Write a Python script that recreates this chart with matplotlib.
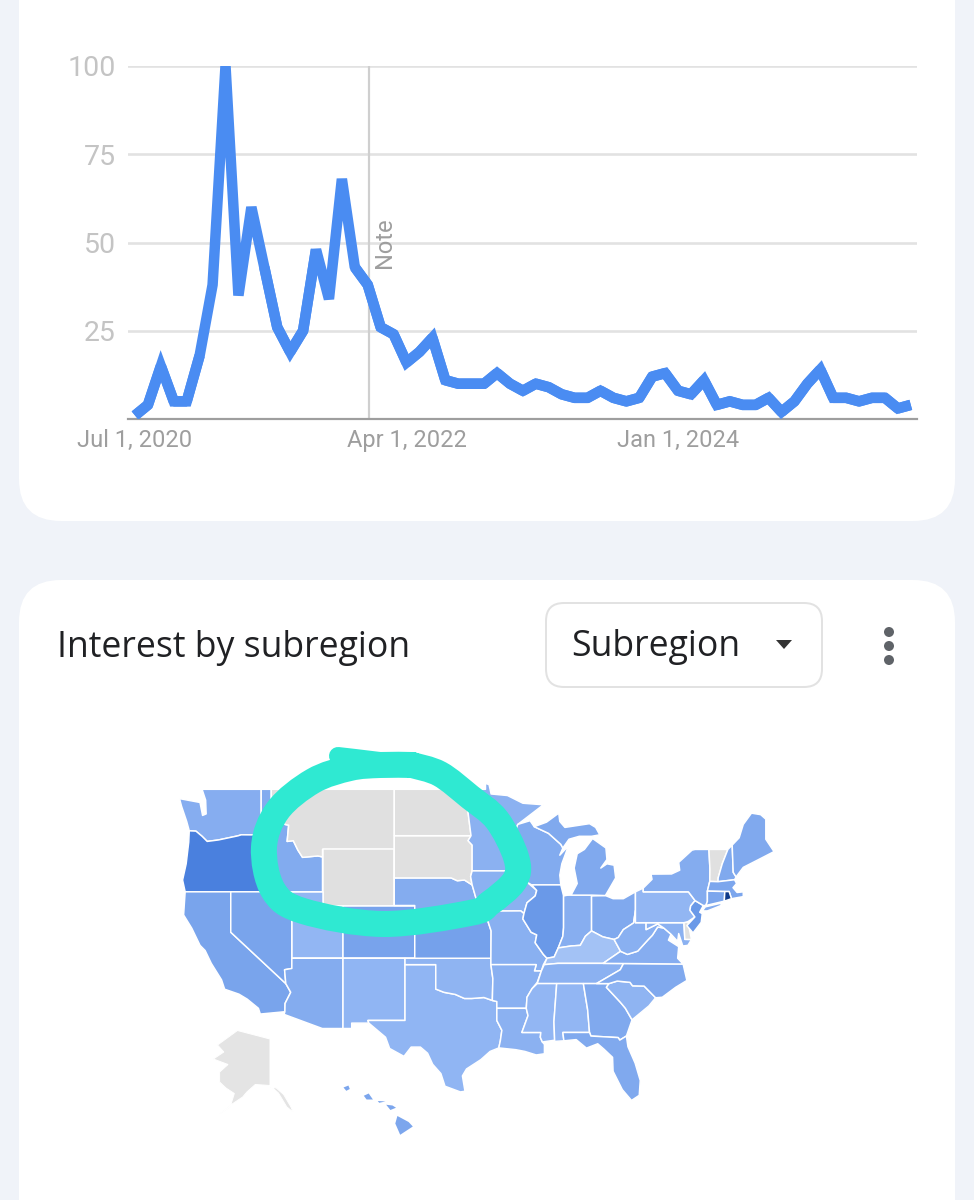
import numpy as np
import matplotlib
matplotlib.use("Agg")
import matplotlib.pyplot as plt
from matplotlib.patches import FancyBboxPatch, Polygon, PathPatch, Circle
from matplotlib.path import Path
from matplotlib.colors import LinearSegmentedColormap, Normalize

# ---------------- line chart data ----------------
MONTH_INDEX = list(range(61))
INTEREST = [1, 4, 15, 5, 5, 18, 38, 100, 35, 60, 43, 26, 19, 25, 48, 34, 68, 43, 38, 26,
            24, 16, 19, 23, 11, 10, 10, 10, 13, 10, 8, 10, 9, 7, 6, 6, 8, 6, 5, 6,
            12, 13, 8, 7, 11, 4, 5, 4, 4, 6, 2, 5, 10, 14, 6, 6, 5, 6, 6, 3, 4]
Y_TICKS = [25, 50, 75, 100]
X_TICK_POS = [0, 21, 42]
X_TICK_LABELS = ["Jul 1, 2020", "Apr 1, 2022", "Jan 1, 2024"]
NOTE_MONTH = 18
SHARP_JOIN_RANGES = [(0, 6), (10, 15), (17, 61)]

# ---------------- map data: interest per state (None = not enough data) ----------------
STATE_VALUES = {
    "OR": 60, "WA": 37, "ID": 39, "CA": 43, "NV": 43, "UT": 30, "AZ": 38, "NM": 31, "CO": 44,
    "KS": 45, "NE": 38, "TX": 31, "OK": 32, "MN": 34, "IA": 34, "MO": 35, "AR": 35, "LA": 34,
    "WI": 39, "IL": 50, "MI": 40, "MI2": 40, "IN": 36, "OH": 40, "KY": 20, "TN": 34, "MS": 30,
    "AL": 30, "GA": 40, "FL": 40, "SC": 32, "NC": 40, "VA": 37, "WV": 35, "PA": 30, "NY": 38,
    "LI": 38, "NJ": 50, "MD": 34, "NH": 40, "ME": 40, "MA": 42, "CT": 42, "RI": 100,
    "MT": None, "ND": None, "SD": None, "WY": None, "VT": None, "DE": None,
}
STATES = {
    "WA": [(-125,48.4),(-123.0,48.15),(-122.75,47.3),(-122.4,47.4),(-122.45,48.3),(-122.8,49),(-117.03,49),(-117.03,46.42),(-116.92,45.99),(-118.98,46.0),(-119.3,45.93),(-121.2,45.65),(-122.3,45.55),(-122.8,45.9),(-123.4,46.25),(-124.05,46.27),(-124.3,46.9),(-124.8,47.9)],
    "OR": [(-124.05,46.27),(-123.4,46.25),(-122.8,45.9),(-122.3,45.55),(-121.2,45.65),(-119.3,45.93),(-118.98,46.0),(-116.92,45.99),(-116.5,45.5),(-117.03,44.3),(-117.03,42),(-124.45,42),(-124.7,42.85),(-124.35,44),(-124.1,45.5)],
    "CA": [(-124.45,42),(-120,42),(-120,39),(-114.63,35),(-114.15,34.3),(-114.7,33.4),(-114.72,32.72),(-117.12,32.53),(-117.3,33),(-118.4,33.75),(-119.2,34.15),(-120.6,34.55),(-120.9,35.3),(-121.9,36.6),(-122.5,37.6),(-123,38),(-123.8,39.3),(-124.6,40.3)],
    "NV": [(-120,42),(-114.04,42),(-114.04,36.2),(-114.75,36.1),(-114.63,35),(-120,39)],
    "ID": [(-117.03,49),(-116.05,49),(-116.05,48),(-115.7,47.45),(-114.7,46.7),(-114.35,46.65),(-114.5,45.55),(-113.9,45.6),(-113.45,44.95),(-113,44.45),(-111.5,44.55),(-111.05,44.48),(-111.05,42),(-117.03,42),(-117.03,44.3),(-116.5,45.5),(-116.92,45.99),(-117.03,46.42)],
    "MT": [(-116.05,49),(-104.05,49),(-104.05,45),(-111.05,45),(-111.05,44.48),(-111.5,44.55),(-113,44.45),(-113.45,44.95),(-113.9,45.6),(-114.5,45.55),(-114.35,46.65),(-114.7,46.7),(-115.7,47.45),(-116.05,48)],
    "WY": [(-111.05,45),(-104.05,45),(-104.05,41),(-111.05,41)],
    "UT": [(-114.04,42),(-111.05,42),(-111.05,41),(-109.05,41),(-109.05,37),(-114.04,37)],
    "CO": [(-109.05,41),(-102.05,41),(-102.05,37),(-109.05,37)],
    "AZ": [(-114.04,37),(-109.05,37),(-109.05,31.33),(-111.07,31.33),(-114.8,32.5),(-114.72,32.72),(-114.7,33.4),(-114.15,34.3),(-114.63,35),(-114.75,36.1),(-114.04,36.2)],
    "NM": [(-109.05,37),(-103,37),(-103,32),(-106.62,32),(-106.53,31.78),(-108.2,31.78),(-108.2,31.33),(-109.05,31.33)],
    "TX": [(-103,36.5),(-100,36.5),(-100,34.56),(-99.2,34.3),(-98.1,34.13),(-97.2,33.8),(-96.5,33.8),(-95.3,33.88),(-94.48,33.64),(-94.04,33.55),(-94.04,33),(-94.04,31.99),(-93.55,31.18),(-93.7,30.3),(-93.85,29.7),(-94.7,29.4),(-95.6,28.7),(-97,27.9),(-97.4,27.3),(-97.15,25.96),(-97.6,25.9),(-99.1,26.4),(-99.5,27.5),(-100.3,28.3),(-100.8,29.25),(-101.5,29.77),(-102.4,29.77),(-103.1,28.98),(-104.5,29.65),(-104.9,30.6),(-106.53,31.78),(-106.62,32),(-103,32)],
    "OK": [(-103,37),(-94.62,37),(-94.62,36.5),(-94.43,35.4),(-94.48,33.64),(-95.3,33.88),(-96.5,33.8),(-97.2,33.8),(-98.1,34.13),(-99.2,34.3),(-100,34.56),(-100,36.5),(-103,36.5)],
    "KS": [(-102.05,40),(-95.3,40),(-94.9,39.8),(-94.6,39.1),(-94.62,37),(-102.05,37)],
    "NE": [(-104.05,43),(-98.5,43),(-97.9,42.8),(-97.2,42.85),(-96.45,42.5),(-96.1,41.6),(-95.9,41),(-95.3,40),(-102.05,40),(-102.05,41),(-104.05,41)],
    "SD": [(-104.05,45.94),(-96.56,45.94),(-96.85,45.6),(-96.45,45.3),(-96.45,43.5),(-96.6,43.1),(-96.45,42.5),(-97.2,42.85),(-97.9,42.8),(-98.5,43),(-104.05,43)],
    "ND": [(-104.05,49),(-97.23,49),(-96.85,47.5),(-96.56,45.94),(-104.05,45.94)],
    "MN": [(-97.23,49),(-95.15,49),(-95.15,49.38),(-94.8,49.3),(-94.6,48.7),(-93,48.6),(-91.5,48.1),(-89.5,48),(-92.0,46.7),(-92.3,46.1),(-92.85,45.6),(-92.75,44.75),(-91.25,43.85),(-91.22,43.5),(-96.45,43.5),(-96.45,45.3),(-96.85,45.6),(-96.56,45.94),(-96.85,47.5)],
    "IA": [(-96.45,43.5),(-91.22,43.5),(-91.1,42.7),(-90.15,42.1),(-90.3,41.7),(-91.1,41.2),(-91.4,40.4),(-91.7,40.6),(-95.77,40.58),(-95.9,41),(-96.1,41.6),(-96.45,42.5),(-96.6,43.1)],
    "MO": [(-95.77,40.58),(-91.7,40.6),(-91.4,40.4),(-91.5,40),(-90.7,39.0),(-90.15,38.8),(-90.3,38.2),(-89.5,37.3),(-89.15,37),(-89.5,36.5),(-89.7,36),(-90.37,36),(-90.2,36.5),(-94.62,36.5),(-94.62,37),(-94.6,39.1),(-94.9,39.8),(-95.3,40)],
    "AR": [(-94.62,36.5),(-90.2,36.5),(-90.37,36),(-89.7,36),(-90.1,35.1),(-90.6,34.6),(-91.1,33.9),(-91.17,33),(-94.04,33),(-94.04,33.55),(-94.48,33.64),(-94.43,35.4)],
    "LA": [(-94.04,33),(-91.17,33),(-91,32.4),(-91.6,31),(-89.75,31),(-89.8,30.6),(-89.6,30.2),(-89.4,30),(-89.4,29.2),(-90.2,29.1),(-91.3,29.4),(-92.2,29.55),(-93.85,29.7),(-93.7,30.3),(-93.55,31.18),(-94.04,31.99)],
    "WI": [(-92.0,46.7),(-90.8,46.95),(-90.4,46.55),(-89,46.1),(-87.8,45.35),(-87.6,45.1),(-87.9,44.6),(-87.05,45.25),(-87.7,44),(-87.9,43.2),(-87.8,42.5),(-90.65,42.5),(-91.1,42.7),(-91.22,43.5),(-91.25,43.85),(-92.75,44.75),(-92.85,45.6),(-92.3,46.1)],
    "IL": [(-90.65,42.5),(-87.8,42.5),(-87.53,41.7),(-87.53,39.35),(-87.6,38.7),(-88.05,37.8),(-88.45,37.1),(-89.15,37),(-89.5,37.3),(-90.3,38.2),(-90.15,38.8),(-90.7,39),(-91.5,40),(-91.4,40.4),(-91.1,41.2),(-90.3,41.7),(-90.15,42.1)],
    "IN": [(-87.53,41.7),(-87.2,41.75),(-86.8,41.76),(-84.8,41.76),(-84.8,39.1),(-85.4,38.7),(-85.9,38.0),(-86.8,37.95),(-88.05,37.8),(-87.6,38.7),(-87.53,39.35)],
    "OH": [(-84.8,41.7),(-83.45,41.73),(-82.7,41.5),(-81.7,41.5),(-80.52,42),(-80.52,40.64),(-80.7,39.7),(-81.7,39.2),(-82.2,38.6),(-82.6,38.45),(-83.7,38.65),(-84.8,39.1)],
    "KY": [(-89.42,36.5),(-89.15,37),(-88.45,37.1),(-88.05,37.8),(-86.8,37.95),(-85.9,38),(-85.4,38.7),(-84.8,39.1),(-83.7,38.65),(-82.6,38.45),(-81.97,37.54),(-83.68,36.6),(-88.07,36.6)],
    "TN": [(-90.1,35),(-89.7,36),(-89.42,36.5),(-88.07,36.6),(-83.68,36.6),(-81.68,36.59),(-82,36.1),(-84.32,35)],
    "MS": [(-91.17,33),(-91.1,33.9),(-90.6,34.6),(-90.1,35),(-88.2,35),(-88.47,31.9),(-88.4,30.35),(-89.6,30.2),(-89.8,30.6),(-89.75,31),(-91.6,31),(-91,32.4)],
    "AL": [(-88.2,35),(-85.6,35),(-85.18,32.87),(-85,31),(-87.6,31),(-87.5,30.3),(-88.4,30.25),(-88.47,31.9)],
    "GA": [(-85.6,35),(-83.1,35),(-83.35,34.7),(-82,33.5),(-81.5,33),(-80.85,32.05),(-81.4,30.7),(-82.05,30.36),(-82.2,30.57),(-84.86,30.7),(-85,31),(-85.18,32.87)],
    "FL": [(-87.6,31),(-85,31),(-84.86,30.7),(-82.2,30.57),(-82.05,30.36),(-81.4,30.7),(-81.25,29.8),(-80.55,28.4),(-80.05,26.9),(-80.15,25.6),(-80.9,25.15),(-81.8,26.1),(-82.7,27.7),(-82.75,28.9),(-83.6,29.6),(-84.2,30.05),(-85.3,29.68),(-86.3,30.4),(-87.5,30.3)],
    "SC": [(-83.1,35),(-82.3,35.2),(-81.05,35.1),(-80.8,34.82),(-79.67,34.8),(-78.55,33.86),(-79.2,33.2),(-80.85,32.05),(-81.5,33),(-82,33.5),(-83.35,34.7)],
    "NC": [(-84.32,35),(-82,36.1),(-81.68,36.59),(-75.87,36.55),(-75.5,35.25),(-76.6,34.7),(-77.9,33.9),(-78.55,33.86),(-79.67,34.8),(-80.8,34.82),(-81.05,35.1),(-82.3,35.2),(-83.1,35)],
    "VA": [(-83.68,36.6),(-81.97,37.54),(-81.3,37.3),(-80.3,37.55),(-79.3,38.42),(-78.87,38.77),(-78.35,39.4),(-77.75,39.32),(-77.05,38.85),(-77.3,38.4),(-76.3,37.9),(-76.4,37),(-75.87,36.55),(-81.68,36.59)],
    "WV": [(-81.97,37.54),(-82.6,38.45),(-82.2,38.6),(-81.7,39.2),(-80.7,39.7),(-80.52,40.64),(-80.52,39.72),(-79.48,39.72),(-79.48,39.2),(-78.35,39.63),(-77.75,39.32),(-78.35,39.4),(-78.87,38.77),(-79.3,38.42),(-80.3,37.55),(-81.3,37.3)],
    "MD": [(-79.48,39.72),(-75.79,39.72),(-75.7,38.46),(-75.05,38.45),(-75.4,38),(-75.9,37.95),(-76.3,38.9),(-76.4,38.3),(-77.05,38.85),(-77.75,39.32),(-78.35,39.63),(-79.48,39.2)],
    "DE": [(-75.79,39.72),(-75.4,39.8),(-75.05,38.45),(-75.7,38.46)],
    "PA": [(-80.52,42),(-79.76,42.27),(-79.76,42),(-75.35,42),(-74.7,41.36),(-75.13,40.97),(-75.2,40.65),(-74.72,40.15),(-75.4,39.8),(-75.79,39.72),(-80.52,39.72)],
    "NJ": [(-74.7,41.36),(-73.9,41),(-74.25,40.5),(-74,40.4),(-74.1,39.75),(-74.9,38.95),(-75.5,39.5),(-74.72,40.15),(-75.2,40.65),(-75.13,40.97)],
    "NY": [(-79.76,42.27),(-78.9,42.9),(-79,43.27),(-77,43.28),(-76.2,43.55),(-76.3,44.1),(-75,44.95),(-74.7,45),(-73.35,45),(-73.25,43.6),(-73.27,42.75),(-73.5,42.05),(-73.5,41.3),(-73.65,41),(-73.9,41),(-74.7,41.36),(-75.35,42),(-79.76,42)],
    "LI": [(-74,40.6),(-73.7,40.9),(-72.3,41.15),(-72,41.05),(-73.5,40.6)],
    "VT": [(-73.35,45),(-71.5,45),(-72.05,44),(-72.45,43),(-72.46,42.73),(-73.27,42.75),(-73.25,43.6)],
    "NH": [(-71.5,45),(-71.08,45.3),(-70.98,43.4),(-70.7,43.07),(-70.85,42.87),(-72.46,42.73),(-72.45,43),(-72.05,44)],
    "ME": [(-71.08,45.3),(-70.4,45.8),(-70,46.7),(-69.2,47.45),(-68.3,47.35),(-67.8,47.05),(-67.8,45.7),(-67.0,44.85),(-68.5,44.3),(-70,43.75),(-70.7,43.07),(-70.98,43.4)],
    "MA": [(-73.5,42.05),(-73.27,42.75),(-72.46,42.73),(-70.85,42.87),(-70.65,42.6),(-71,42.3),(-70.6,41.95),(-70,42),(-70,41.65),(-71.15,41.5),(-71.38,42.02),(-71.8,42.02)],
    "CT": [(-73.5,42.05),(-71.8,42.02),(-71.85,41.32),(-73.65,41),(-73.5,41.3)],
    "RI": [(-71.8,42.02),(-71.38,42.02),(-71.15,41.5),(-71.85,41.32)],
    "MI": [(-86.8,41.76),(-84.8,41.76),(-83.45,41.73),(-83,42.3),(-82.45,43),(-82.6,43.9),(-83.3,44),(-83.9,43.7),(-83.3,44.3),(-83.4,45.1),(-84.7,45.75),(-85.5,45),(-86.2,44.7),(-86.5,43.7),(-86.2,42.6)],
    "MI2": [(-90.4,46.55),(-89.2,46.85),(-88,47.45),(-87.9,46.9),(-87.4,46.5),(-85,46.75),(-84.4,46.5),(-84,46),(-84.8,45.9),(-86,45.9),(-87,45.7),(-87.6,45.1),(-87.8,45.35),(-89,46.1)],
}
ALASKA = [(-156.5,71.3),(-166,68.4),(-163,67),(-168,65.6),(-161,64.5),(-165,63),(-165,61),(-162,59.8),(-158,58.7),(-160,56),(-165,54.6),(-159,56.6),(-154,58),(-152,59),(-148,60.5),(-141,60.3),(-137,58.8),(-133,56),(-130,55),(-131,56),(-134.5,58.5),(-138,59.8),(-141,60.0),(-141,69.6)]
HAWAII = [
    [(-155.9,20.2),(-155.1,19.8),(-154.8,19.5),(-155.7,18.95),(-156.05,19.7)],
    [(-156.7,20.95),(-156.25,20.9),(-156,20.75),(-156.4,20.6)],
    [(-158.3,21.55),(-157.95,21.7),(-157.65,21.3),(-158.1,21.3)],
    [(-159.75,22.1),(-159.4,22.23),(-159.3,22),(-159.55,21.88)],
    [(-157.3,21.2),(-156.75,21.17),(-157.2,21.08)],
]
HAWAII_VALUE = 42
RING_POINTS = [(412,765),(440,774),(470,797),(497,820),(516,857),(515,880),(490,903),(470,913),
               (383,924),(303,911),(273,890),(264,847),(278,810),(313,781),(350,768),(380,765),(412,765)]
RING_TAIL = [(338,756),(380,761),(432,768)]

# ---------------- figure ----------------
W, H = 974, 1200
fig = plt.figure(figsize=(W/100, H/100), dpi=100, facecolor="#f0f3f9")
px = 72/100
bg = fig.add_axes([0, 0, 1, 1])
bg.set_xlim(0, W); bg.set_ylim(H, 0); bg.axis("off")

for (y0, y1) in [(-120, 521), (580, 1320)]:
    bg.add_patch(FancyBboxPatch((19+42, y0+42), 936-84, y1-y0-84,
                                boxstyle="round,pad=42,rounding_size=42", fc="white", ec="none", zorder=1))

# line chart
L, R, T, B = 128, 917, 66, 419
ax = fig.add_axes([L/W, 1-B/H, (R-L)/W, (B-T)/H], facecolor="none", zorder=3)
step = 12.93
ax.set_xlim((L-135)/step, (R-135)/step)
ax.set_ylim(0, 100)
for s in ["top", "right", "left"]:
    ax.spines[s].set_visible(False)
ax.spines["bottom"].set_color("#9e9e9e")
ax.spines["bottom"].set_linewidth(2.2*px)
ax.set_yticks(Y_TICKS)
ax.set_xticks(X_TICK_POS)
ax.set_xticklabels(X_TICK_LABELS)
ax.yaxis.grid(True, color="#e2e2e2", lw=2.6*px)
ax.set_axisbelow(True)
ax.tick_params(axis="y", length=0, pad=12*px, labelsize=20.5, labelcolor="#c4c4c4", labelfontfamily="Roboto")
ax.tick_params(axis="x", length=0, pad=10*px, labelsize=17, labelcolor="#9e9e9e", labelfontfamily="Roboto")
ax.axvline(NOTE_MONTH+0.06, color="#cfcfcf", lw=2.2*px, zorder=1.5)
ax.text(NOTE_MONTH+1.27, 50, "Note", rotation=90, va="center", ha="center",
        fontsize=17, color="#9e9e9e", family="Roboto")
LINE_COLOR = "#4a8cf2"
ax.plot(MONTH_INDEX, INTEREST, color=LINE_COLOR, lw=10.5*px, solid_joinstyle="bevel",
        solid_capstyle="butt", zorder=3)
# gentle bends keep their pointed joins; only the steep peaks stay cut flat
for a, b in SHARP_JOIN_RANGES:
    ax.plot(MONTH_INDEX[a:b], INTEREST[a:b], color=LINE_COLOR, lw=10.5*px, solid_joinstyle="miter",
            solid_capstyle="butt", zorder=3)

# card two header
bg.text(57, 648, "Interest by subregion", fontsize=25.7, color="#202124", family="Open Sans",
        va="center", ha="left", zorder=2)
bg.add_patch(FancyBboxPatch((546+18, 603+18), 276-36, 84-36, boxstyle="round,pad=18,rounding_size=18",
                            fc="white", ec="#e2e2e2", lw=2*px, zorder=2))
bg.text(571, 647, "Subregion", fontsize=25.7, color="#202124", family="Open Sans", va="center", ha="left", zorder=3)
bg.add_patch(Polygon([(776, 640), (792, 640), (784, 649)], fc="#333333", ec="none", zorder=3))
for yy in (632, 646, 660):
    bg.add_patch(Circle((889, yy), 5, fc="#5f6368", ec="none", zorder=3))

# map
cmap = LinearSegmentedColormap.from_list("interest", [
    (0.0, "#c8dafa"), (0.20, "#a3c2f5"), (0.30, "#92b6f3"), (0.40, "#80a9ee"),
    (0.50, "#6b9ae8"), (0.60, "#4a80de"), (1.0, "#0f3a8a")])
norm = Normalize(0, 100)
NO_DATA = "#e0e0e0"

def merc(lat):
    return np.log(np.tan(np.pi/4 + np.radians(lat)/2))

def main_proj(pts):
    a = np.array(pts, float)
    return np.c_[343 + (a[:, 0]+109.05)*10.25, 905.5 - (merc(a[:, 1])-merc(41.0))*587]

def alaska_proj(pts):
    a = np.array(pts, float)
    return np.c_[270 + (a[:, 0]+141)*2.1, 1032 + (71-a[:, 1])*5]

def hawaii_proj(pts):
    a = np.array(pts, float)
    return np.c_[403 + (a[:, 0]+155.5)*14, 1125 - (a[:, 1]-19.6)*15]

for key, outline in STATES.items():
    v = STATE_VALUES[key]
    bg.add_patch(Polygon(main_proj(outline), closed=True, fc=NO_DATA if v is None else cmap(norm(v)),
                         ec="white", lw=1.5*px, joinstyle="round", zorder=2))
bg.add_patch(Polygon(alaska_proj(ALASKA), closed=True, fc="#e4e4e4", ec="white", lw=1.0*px, zorder=2))
for isl in HAWAII:
    bg.add_patch(Polygon(hawaii_proj(isl), closed=True, fc=cmap(norm(HAWAII_VALUE)), ec="none", zorder=2))

# hand-drawn ring (Catmull-Rom through traced points)
def smooth(points):
    P = np.array(points, float)
    verts = [P[0]]; codes = [Path.MOVETO]
    for i in range(len(P)-1):
        p0 = P[max(i-1, 0)]; p1 = P[i]; p2 = P[i+1]; p3 = P[min(i+2, len(P)-1)]
        verts += [p1+(p2-p0)/6, p2-(p3-p1)/6, p2]
        codes += [Path.CURVE4]*3
    return Path(verts, codes)

bg.add_patch(PathPatch(smooth(RING_POINTS), fc="none", ec="#2fe9d2", lw=26*px,
                       capstyle="round", joinstyle="round", zorder=4))
bg.add_patch(PathPatch(smooth(RING_TAIL), fc="none", ec="#2fe9d2", lw=18*px,
                       capstyle="round", joinstyle="round", zorder=4))

fig.savefig("out.png", dpi=100, facecolor=fig.get_facecolor())
